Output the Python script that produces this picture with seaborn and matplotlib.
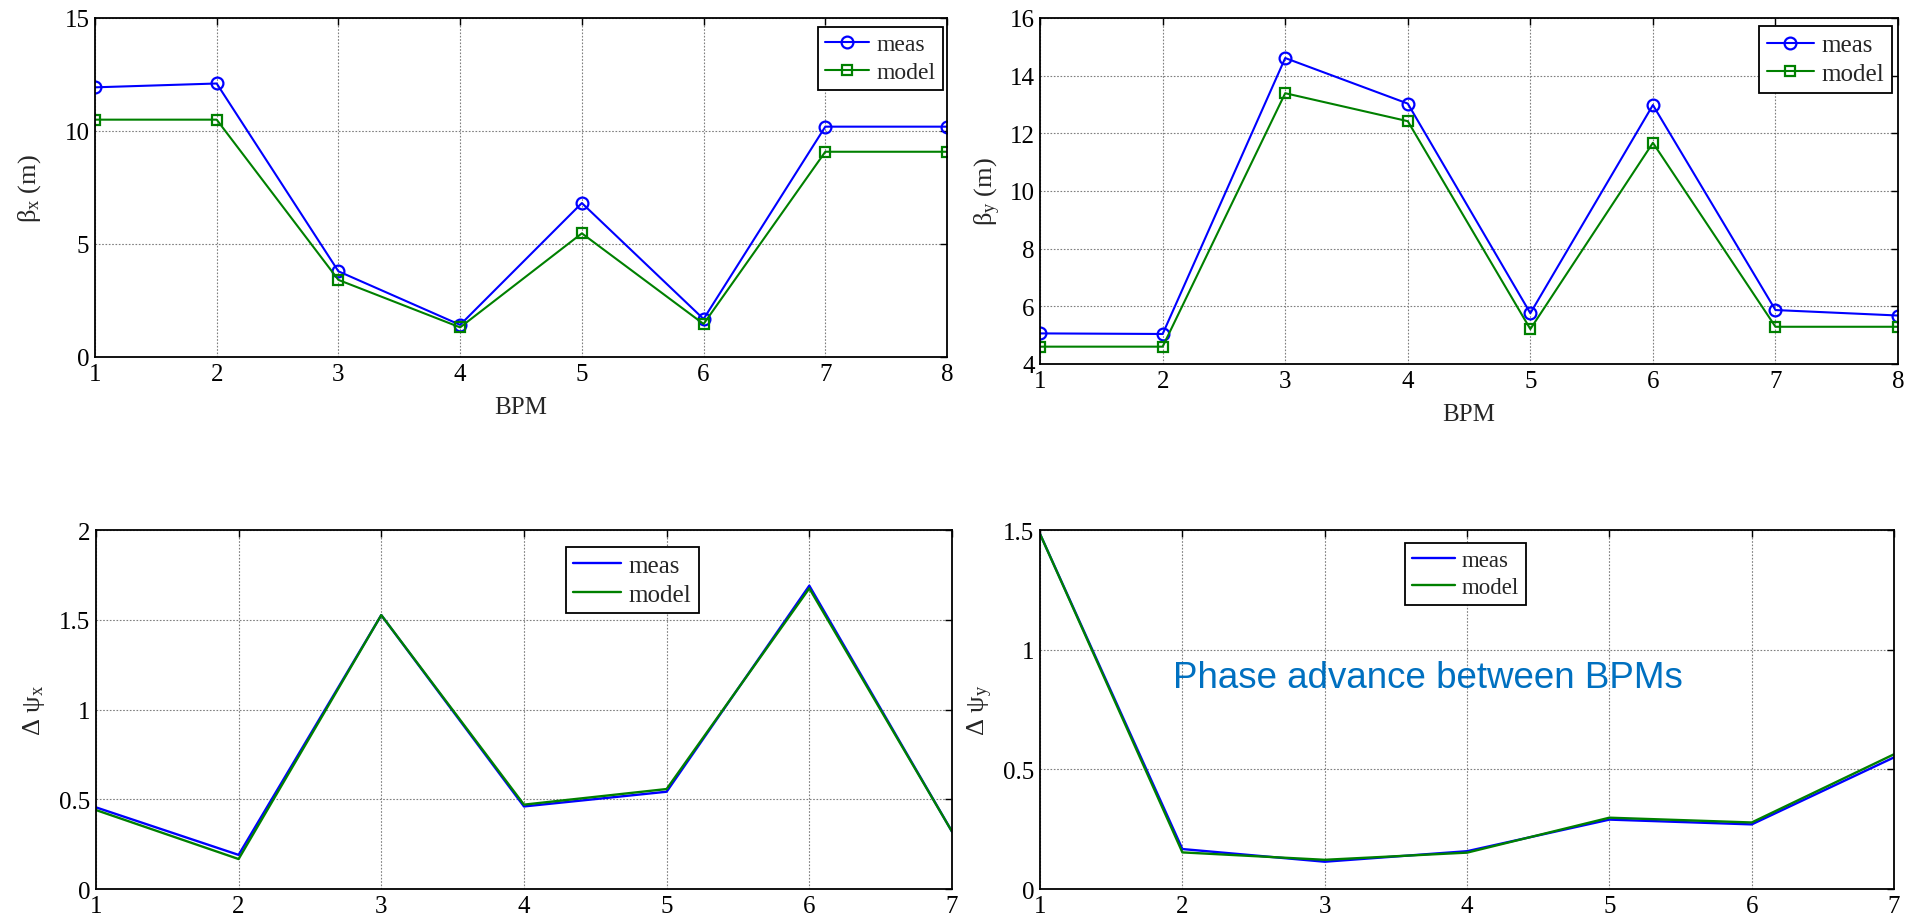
import numpy as np
import pandas as pd
import seaborn as sns
import matplotlib
matplotlib.use("Agg")
import matplotlib.pyplot as plt
from matplotlib.ticker import FuncFormatter, MultipleLocator

# Beta functions at the eight BPMs
bpm8 = [1, 2, 3, 4, 5, 6, 7, 8]
beta_x_meas = [11.93, 12.10, 3.79, 1.42, 6.81, 1.68, 10.19, 10.19]
beta_x_model = [10.50, 10.50, 3.41, 1.31, 5.47, 1.46, 9.08, 9.08]
beta_y_meas = [5.06, 5.04, 14.61, 13.03, 5.76, 12.98, 5.87, 5.68]
beta_y_model = [4.60, 4.60, 13.39, 12.42, 5.21, 11.67, 5.29, 5.29]

# Phase advance between consecutive BPMs
bpm7 = [1, 2, 3, 4, 5, 6, 7]
dpsi_x_meas = [0.455, 0.190, 1.526, 0.460, 0.542, 1.690, 0.320]
dpsi_x_model = [0.440, 0.167, 1.526, 0.470, 0.557, 1.675, 0.320]
dpsi_y_meas = [1.483, 0.167, 0.114, 0.158, 0.290, 0.270, 0.550]
dpsi_y_model = [1.483, 0.153, 0.122, 0.152, 0.298, 0.278, 0.563]

series_names = ["meas", "model"]
note_text = "Phase advance between BPMs"

sns.set_style("white")
plt.rcParams["font.family"] = ["Liberation Serif", "DejaVu Serif"]
plt.rcParams["mathtext.fontset"] = "custom"
plt.rcParams["mathtext.rm"] = "Liberation Serif"
plt.rcParams["mathtext.it"] = "Liberation Serif"
plt.rcParams["mathtext.bf"] = "Liberation Serif:bold"

BLUE = "#0000FF"
GREEN = "#008000"

fig = plt.figure(figsize=(19.07, 9.2), dpi=100)
fig.patch.set_facecolor("white")

ax_bx = fig.add_axes([0.0498, 0.6109, 0.4468, 0.3685])
ax_by = fig.add_axes([0.5454, 0.6033, 0.4499, 0.3761])
ax_px = fig.add_axes([0.0503, 0.0326, 0.4489, 0.3902])
ax_py = fig.add_axes([0.5454, 0.0326, 0.4478, 0.3902])

fmt = FuncFormatter(lambda v, p: "%g" % v)


def style_axes(ax, xmax, ylim, ystep):
    ax.set_xlim(1, xmax)
    ax.set_ylim(*ylim)
    ax.xaxis.set_major_locator(MultipleLocator(1))
    ax.yaxis.set_major_locator(MultipleLocator(ystep))
    ax.xaxis.set_major_formatter(fmt)
    ax.yaxis.set_major_formatter(fmt)
    ax.grid(True, color="#7f7f7f", linestyle=(0, (1.5, 1.5)), linewidth=0.8)
    ax.set_axisbelow(True)
    ax.tick_params(direction="in", length=5, width=1, top=True, right=True,
                   labelsize=18, pad=4, colors="black")
    for s in ax.spines.values():
        s.set_visible(True)
        s.set_color("black")
        s.set_linewidth(1.3)


def with_markers(ax, x, meas, model):
    df = pd.DataFrame({"BPM": x, "meas": meas, "model": model})
    sns.lineplot(data=df, x="BPM", y="meas", ax=ax, color=BLUE, lw=1.5,
                 marker="o", markersize=8.5, markerfacecolor="none",
                 markeredgecolor=BLUE, markeredgewidth=1.6, label=series_names[0])
    sns.lineplot(data=df, x="BPM", y="model", ax=ax, color=GREEN, lw=1.5,
                 marker="s", markersize=7, markerfacecolor="none",
                 markeredgecolor=GREEN, markeredgewidth=1.6, label=series_names[1])


def plain(ax, x, meas, model):
    df = pd.DataFrame({"BPM": x, "meas": meas, "model": model})
    sns.lineplot(data=df, x="BPM", y="meas", ax=ax, color=BLUE, lw=1.7,
                 label=series_names[0])
    sns.lineplot(data=df, x="BPM", y="model", ax=ax, color=GREEN, lw=1.7,
                 label=series_names[1])


def make_legend(ax, anchor, size, handlelength=1.9):
    leg = ax.legend(loc="upper left", bbox_to_anchor=anchor, fontsize=size,
                    frameon=True, fancybox=False, framealpha=1, edgecolor="black",
                    handlelength=handlelength, handletextpad=0.3, borderpad=0.3,
                    labelspacing=0.25, borderaxespad=0)
    leg.get_frame().set_linewidth(1.3)
    return leg


# Top row: beta functions
with_markers(ax_bx, bpm8, beta_x_meas, beta_x_model)
style_axes(ax_bx, 8, (0, 15), 5)
ax_bx.set_xlabel("BPM", fontsize=18, labelpad=8)
ax_bx.set_ylabel(r"$\beta_x$ (m)", fontsize=19)
ax_bx.yaxis.set_label_coords(-0.061, 0.5)
make_legend(ax_bx, (0.848, 0.974), 17)

with_markers(ax_by, bpm8, beta_y_meas, beta_y_model)
style_axes(ax_by, 8, (4, 16), 2)
ax_by.set_xlabel("BPM", fontsize=18, labelpad=8)
ax_by.set_ylabel(r"$\beta_y$ (m)", fontsize=19)
ax_by.yaxis.set_label_coords(-0.043, 0.5)
make_legend(ax_by, (0.838, 0.976), 18)

# Bottom row: phase advance
plain(ax_px, bpm7, dpsi_x_meas, dpsi_x_model)
style_axes(ax_px, 7, (0, 2), 0.5)
ax_px.set_xlabel("")
ax_px.set_ylabel(r"$\Delta\ \psi_x$", fontsize=19)
ax_px.yaxis.set_label_coords(-0.057, 0.5)
make_legend(ax_px, (0.549, 0.953), 18)

plain(ax_py, bpm7, dpsi_y_meas, dpsi_y_model)
style_axes(ax_py, 7, (0, 1.5), 0.5)
ax_py.set_xlabel("")
ax_py.set_ylabel(r"$\Delta\ \psi_y$", fontsize=19)
ax_py.yaxis.set_label_coords(-0.053, 0.5)
make_legend(ax_py, (0.427, 0.964), 16.5)

ax_py.text(0.156, 0.562, note_text, transform=ax_py.transAxes, ha="left",
           va="baseline", color="#0070C0", fontsize=26.5,
           family=["Liberation Sans", "DejaVu Sans"])

fig.savefig("out.png", dpi=100, facecolor="white")
